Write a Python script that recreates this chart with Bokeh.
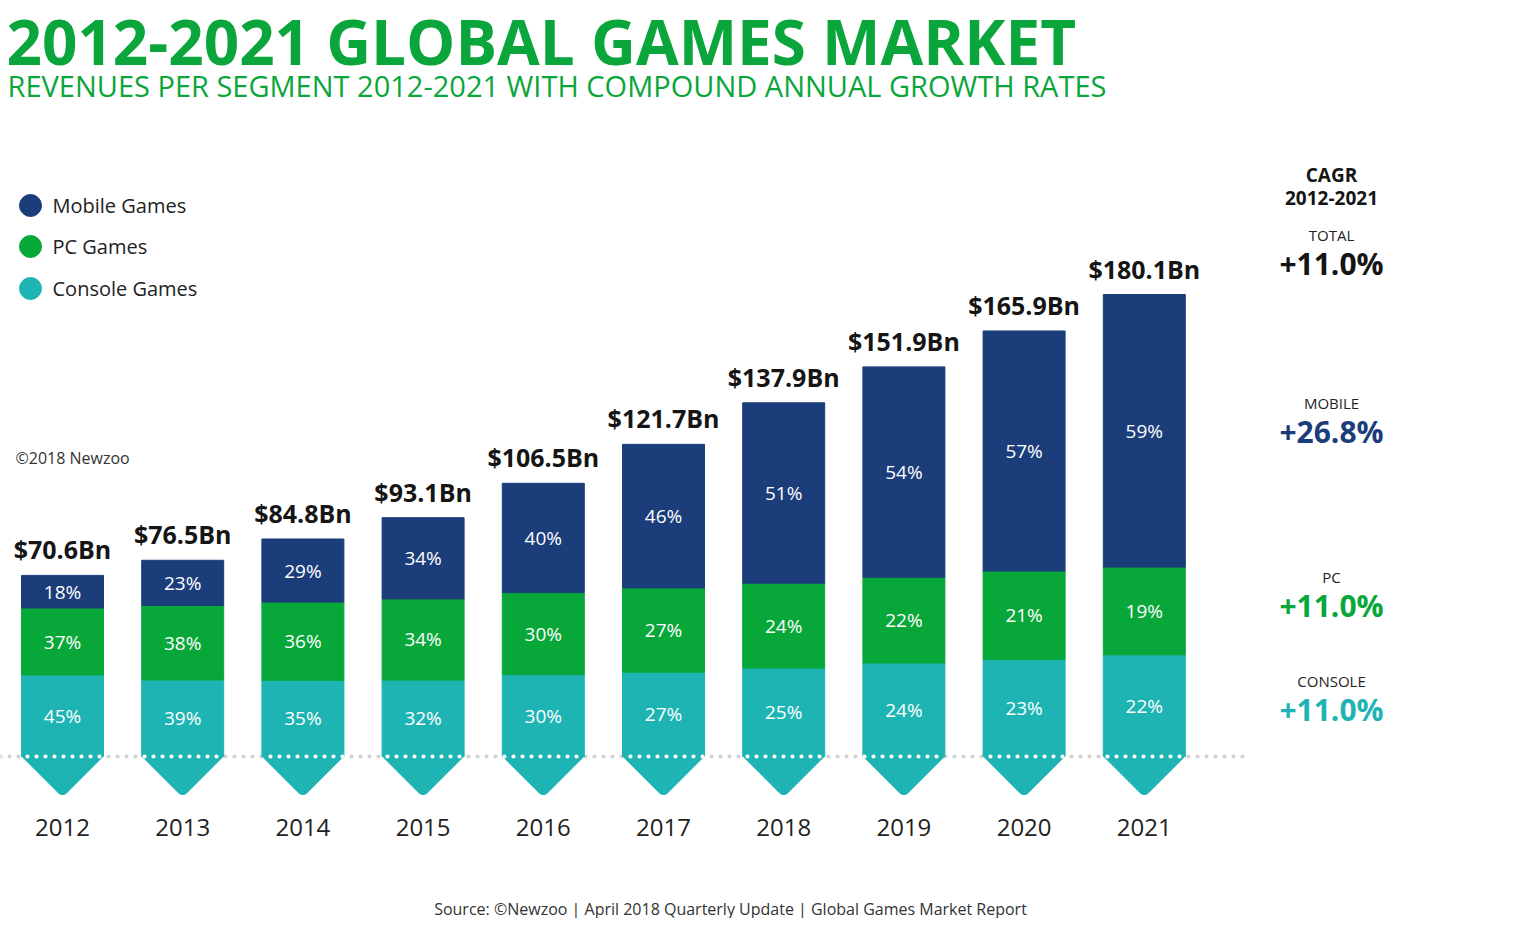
import numpy as np
from bokeh.plotting import figure
from bokeh.models import Range1d, ColumnDataSource
from bokeh.core.properties import value
from bokeh.embed import file_html
from bokeh.resources import INLINE

# ---------------- data ----------------
years = ["2012", "2013", "2014", "2015", "2016", "2017", "2018", "2019", "2020", "2021"]
totals = [70.6, 76.5, 84.8, 93.1, 106.5, 121.7, 137.9, 151.9, 165.9, 180.1]
mobile_pct = [18, 23, 29, 34, 40, 46, 51, 54, 57, 59]
pc_pct = [37, 38, 36, 34, 30, 27, 24, 22, 21, 19]
console_pct = [45, 39, 35, 32, 30, 27, 25, 24, 23, 22]
series_names = ["Mobile Games", "PC Games", "Console Games"]
cagr_labels = ["TOTAL", "MOBILE", "PC", "CONSOLE"]
cagr_values = ["+11.0%", "+26.8%", "+11.0%", "+11.0%"]

# ---------------- style ----------------
MOBILE = "#1B3E7B"
PC = "#08A73A"
CONSOLE = "#1FB4B4"
TITLE_GREEN = "#0AA53B"
DARK = "#151515"
FONT = "Open Sans"

W, H = 1506, 918
X0, STEP = 62.0, 120.2      # pixel centre of first bar, pixel step between bars
BASE, PX = 756.0, 2.565     # pixel baseline, pixels per $Bn


def dx(px):
    return (px - X0) / STEP


def dy(py):
    return (BASE - py) / PX


p = figure(width=W, height=H,
           x_range=Range1d(dx(0), dx(W)), y_range=Range1d(dy(H), dy(0)),
           x_axis_type=None, y_axis_type=None, min_border=0,
           toolbar_location=None, output_backend="svg", outline_line_color=None)
p.background_fill_color = "white"
p.border_fill_color = "white"
p.grid.visible = False


def txt(x, y, t, size, color=DARK, bold=False, align="center", baseline="middle"):
    p.text(x=x, y=y, text=t, text_font=value(FONT), text_font_size=f"{size}px",
           text_font_style="bold" if bold else "normal", text_color=color,
           text_align=align, text_baseline=baseline)


# ---------------- bars ----------------
x = np.arange(len(years), dtype=float)
tot = np.array(totals)
m = np.array(mobile_pct, dtype=float)
pc = np.array(pc_pct, dtype=float)
c = np.array(console_pct, dtype=float)
s = m + pc + c
c_val = tot * c / s
pc_val = tot * pc / s
m_val = tot * m / s

bw = 82.0 / STEP
pitch = 9

# grey dotted baseline (behind bars)
p.line(x=[dx(0), dx(1243)], y=[0, 0], line_color="#D2D2D2", line_width=4.2,
       line_dash=f"0 {pitch}", line_cap="round")

p.vbar(x=x, bottom=0, top=c_val, width=bw, color=CONSOLE)
p.vbar(x=x, bottom=c_val, top=c_val + pc_val, width=bw, color=PC)
p.vbar(x=x, bottom=c_val + pc_val, top=tot, width=bw, color=MOBILE)

# chevron arrows under each bar
r = 6.0
half = 41.0
cy = half - r * np.sqrt(2)
theta = np.linspace(np.pi * 0.75, np.pi * 0.25, 9)
arc_x = r * np.cos(theta)
arc_y = cy + r * np.sin(theta)
off_x = np.concatenate([[-half, -half], arc_x, [half, half]])
off_y = np.concatenate([[-2, 0], arc_y, [0, -2]])
xs = [list(xi + off_x / STEP) for xi in x]
ys = [list(-off_y / PX) for _ in x]
p.patches(xs=xs, ys=ys, color=CONSOLE, line_width=0)

# white dots over the bars, aligned with the grey dot pattern
wx0, wx1 = [], []
for xi in x:
    cpx = X0 + xi * STEP
    L = np.ceil((cpx - 41) / pitch) * pitch
    R = cpx + 41
    wx0.append(dx(L))
    wx1.append(dx(R))
p.multi_line(xs=[[a, b] for a, b in zip(wx0, wx1)], ys=[[0, 0] for _ in x],
             line_color="white", line_width=4.2, line_dash=f"0 {pitch}", line_cap="round")

# percent labels
pct_src = ColumnDataSource(dict(
    x=np.concatenate([x, x, x]),
    y=np.concatenate([c_val / 2, c_val + pc_val / 2, c_val + pc_val + m_val / 2]),
    t=[f"{int(v)}%" for v in console_pct] + [f"{int(v)}%" for v in pc_pct] + [f"{int(v)}%" for v in mobile_pct],
))
p.text(x="x", y="y", text="t", source=pct_src, text_font=value(FONT), text_font_size="19px",
       text_color="white", text_align="center", text_baseline="middle")

# total labels
txt(x, tot + 26 / PX, [f"${t:.1f}Bn" for t in totals], 25, DARK, bold=True)

# year labels
txt(x, [dy(827)] * len(x), years, 24, "#222222")

# ---------------- titles ----------------
txt([dx(6)], [dy(40)], ["2012-2021 GLOBAL GAMES MARKET"], 62, TITLE_GREEN, bold=True, align="left")
txt([dx(7)], [dy(85)], ["REVENUES PER SEGMENT 2012-2021 WITH COMPOUND ANNUAL GROWTH RATES"], 29,
    TITLE_GREEN, align="left")

# ---------------- legend ----------------
leg_colors = [MOBILE, PC, CONSOLE]
leg_y = [dy(205), dy(246), dy(288)]
p.scatter(x=[dx(30)] * 3, y=leg_y, size=22, color=leg_colors, marker="circle")
txt([dx(52)] * 3, leg_y, series_names, 20, "#222222", align="left")

txt([dx(15)], [dy(457)], ["\u00a92018 Newzoo"], 16, "#333333", align="left")

# ---------------- CAGR panel ----------------
CX = dx(1331)
txt([CX, CX], [dy(174), dy(197)], ["CAGR", "2012-2021"], 19, DARK, bold=True)
cagr_colors = [DARK, MOBILE, PC, CONSOLE]
lab_y = [234, 402, 576, 680]
val_y = [263, 431, 605, 709]
txt([CX] * 4, [dy(v) for v in lab_y], cagr_labels, 15, "#222222")
for lab, col, vy in zip(cagr_values, cagr_colors, val_y):
    txt([CX], [dy(vy)], [lab], 30, col, bold=True)

# ---------------- source ----------------
txt([dx(730)], [dy(908)], ["Source: \u00a9Newzoo | April 2018 Quarterly Update | Global Games Market Report"],
    16, "#333333")

open("out.html", "w").write(file_html(p, INLINE))
